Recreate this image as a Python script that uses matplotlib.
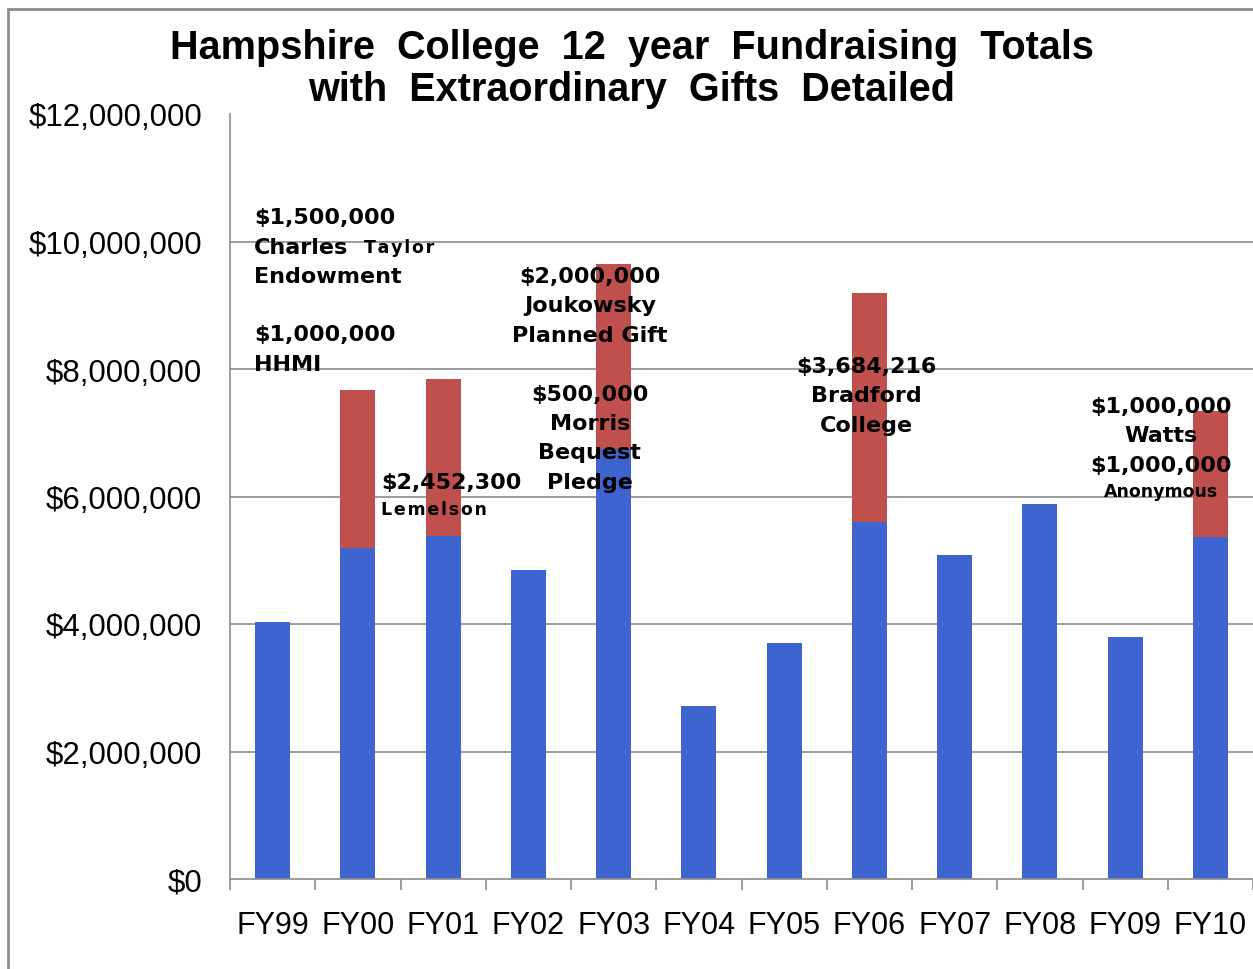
import numpy as np
import matplotlib.pyplot as plt
from matplotlib.patches import Rectangle
from matplotlib.ticker import FuncFormatter, FixedLocator

years = ['FY99', 'FY00', 'FY01', 'FY02', 'FY03', 'FY04', 'FY05', 'FY06',
         'FY07', 'FY08', 'FY09', 'FY10']
base = [4.03, 5.19, 5.38, 4.85, 6.75, 2.71, 3.70, 5.60, 5.08, 5.88, 3.80, 5.36]
extra = [0, 2.48, 2.46, 0, 2.90, 0, 0, 3.59, 0, 0, 0, 1.98]
base = np.array(base) * 1e6
extra = np.array(extra) * 1e6

blue = '#3E64CF'
red = '#C0504D'
grey = '#8C8C8C'


def spaced(s):
    # letter spaced text, like the small labels of the original
    return '\u200a'.join(s)


fig = plt.figure(figsize=(12.53, 9.70), dpi=100)
ax = fig.add_axes([230 / 1253, 90 / 970, 1023 / 1253, 765 / 970])

x = np.arange(len(years))
ax.bar(x, base, width=0.41, color=blue, zorder=2)
ax.bar(x, extra, width=0.41, bottom=base, color=red, zorder=2)

ax.set_xlim(-0.5, 11.5)
ax.set_ylim(0, 12e6)
ax.set_yticks(np.arange(0, 12.1e6, 2e6))
ax.yaxis.set_major_formatter(FuncFormatter(lambda v, p: f'${v:,.0f}'))
for yv in np.arange(2e6, 11e6, 2e6):
    ax.axhline(yv, color=grey, lw=1.2, zorder=1)

ax.xaxis.set_major_locator(FixedLocator(np.arange(-0.5, 12, 1)))
ax.xaxis.set_minor_locator(FixedLocator(x))
ax.set_xticklabels([], minor=False)
ax.set_xticklabels(years, minor=True)
ax.tick_params(axis='x', which='major', length=8, width=1.2, color=grey, direction='out')
ax.tick_params(axis='x', which='minor', length=0, pad=22, labelsize=22)
ax.tick_params(axis='y', length=0, pad=20, labelsize=22.5)
for lab in ax.get_yticklabels() + ax.get_xticklabels(minor=True):
    lab.set_family('Liberation Sans')

for s in ['top', 'right']:
    ax.spines[s].set_visible(False)
ax.spines['left'].set_color(grey)
ax.spines['bottom'].set_color(grey)
ax.spines['left'].set_linewidth(1.2)
ax.spines['bottom'].set_linewidth(1.2)

fig.text(0.504, 0.951, 'Hampshire  College  12  year  Fundraising  Totals',
         ha='center', va='center', fontsize=28.5, fontweight='bold',
         family='Liberation Sans')
fig.text(0.504, 0.907, 'with  Extraordinary  Gifts  Detailed',
         ha='center', va='center', fontsize=28.5, fontweight='bold',
         family='Liberation Sans')

big = dict(fontsize=16, fontweight='heavy', family='DejaVu Sans', va='center', zorder=3)
small = dict(fontsize=12.5, fontweight='heavy', family='DejaVu Sans', va='center', zorder=3)

# FY00 notes (left aligned)
ax.text(-0.22, 10.38e6, '$1,500,000', ha='left', **big)
ax.text(-0.22, 9.91e6, 'Charles', ha='left', **big)
ax.text(1.07, 9.91e6, spaced('Taylor'), ha='left', **small)
ax.text(-0.22, 9.46e6, 'Endowment', ha='left', **big)
ax.text(-0.22, 8.55e6, '$1,000,000', ha='left', **big)
ax.text(-0.22, 8.08e6, 'HHMI', ha='left', **big)

# FY01
ax.text(1.27, 6.23e6, '$2,452,300', ha='left', **big)
ax.text(1.27, 5.80e6, spaced('Lemelson'), ha='left', **small)

# FY03
for yv, t in [(9.46, '$2,000,000'), (9.0, 'Joukowsky'), (8.53, 'Planned Gift'),
              (7.61, '$500,000'), (7.15, 'Morris'), (6.70, 'Bequest'), (6.23, 'Pledge')]:
    ax.text(3.72, yv * 1e6, t, ha='center', **big)

# FY06
for yv, t in [(8.05, '$3,684,216'), (7.59, 'Bradford'), (7.12, 'College')]:
    ax.text(6.96, yv * 1e6, t, ha='center', **big)

# FY10
ax.text(10.42, 7.42e6, '$1,000,000', ha='center', **big)
ax.text(10.42, 6.96e6, 'Watts', ha='center', **big)
ax.text(10.42, 6.49e6, '$1,000,000', ha='center', **big)
ax.text(10.42, 6.09e6, 'Anonymous', ha='center', **small)

fig.patches.append(Rectangle((8 / 1253, -0.01), 1.02, 1 - 10 / 970 + 0.01,
                             transform=fig.transFigure, fill=False,
                             edgecolor=grey, lw=2))

fig.savefig('out.png', dpi=100)
